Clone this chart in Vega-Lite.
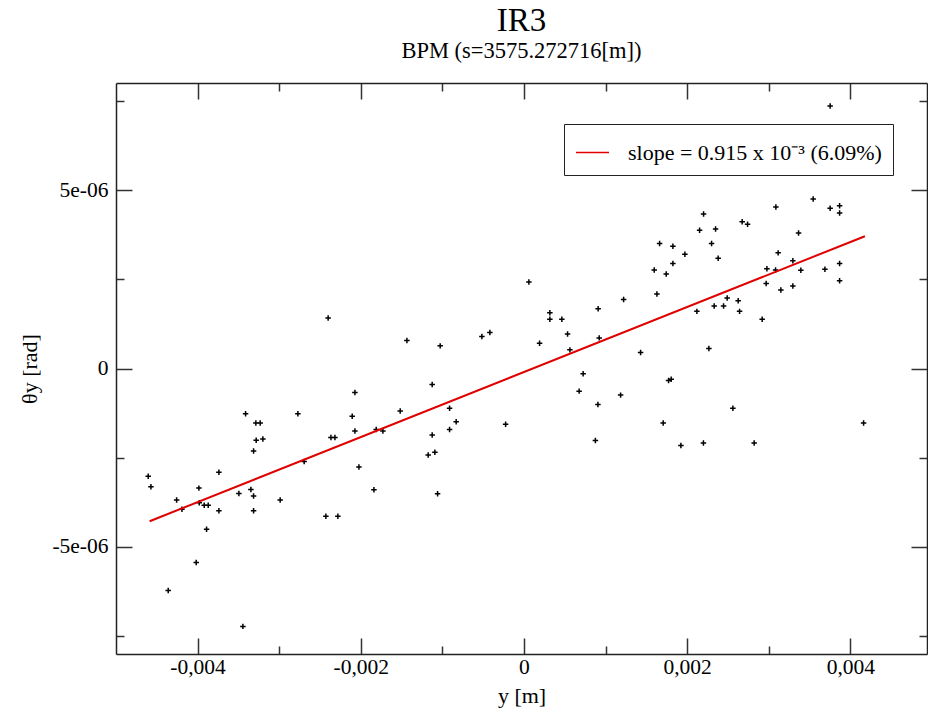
{
  "$schema": "https://vega.github.io/schema/vega-lite/v6.json",
  "autosize": "none",
  "width": 811,
  "height": 571,
  "padding": {"left": 116, "top": 83, "right": 1, "bottom": 65},
  "background": "white",
  "config": {"view": {"stroke": null}, "font": "Liberation Serif"},
  "title": {
    "text": "IR3",
    "subtitle": "BPM (s=3575.272716[m])",
    "font": "Liberation Serif",
    "fontSize": 33,
    "fontWeight": "normal",
    "color": "black",
    "subtitleFont": "Liberation Serif",
    "subtitleFontSize": 22.5,
    "subtitleColor": "black",
    "subtitlePadding": 2,
    "offset": 20,
    "anchor": "middle"
  },
  "datasets": {
    "pts": [
      {"y": -0.003412, "theta": -1.265e-6},
      {"y": -0.003286, "theta": -1.528e-6},
      {"y": -0.003233, "theta": -1.528e-6},
      {"y": -0.002771, "theta": -1.265e-6},
      {"y": -0.003282, "theta": -2.011e-6},
      {"y": -0.0032, "theta": -1.975e-6},
      {"y": -0.003314, "theta": -2.31e-6},
      {"y": -0.002694, "theta": -2.606e-6},
      {"y": -0.004605, "theta": -3.017e-6},
      {"y": -0.004572, "theta": -3.316e-6},
      {"y": -0.004257, "theta": -3.687e-6},
      {"y": -0.004192, "theta": -3.947e-6},
      {"y": -0.003984, "theta": -3.352e-6},
      {"y": -0.003739, "theta": -2.905e-6},
      {"y": -0.003919, "theta": -3.835e-6},
      {"y": -0.00387, "theta": -3.835e-6},
      {"y": -0.00389, "theta": -4.506e-6},
      {"y": -0.004017, "theta": -5.438e-6},
      {"y": -0.00436, "theta": -6.221e-6},
      {"y": -0.003739, "theta": -3.986e-6},
      {"y": -0.003494, "theta": -3.5e-6},
      {"y": -0.003347, "theta": -3.388e-6},
      {"y": -0.003314, "theta": -3.575e-6},
      {"y": -0.003314, "theta": -3.986e-6},
      {"y": -0.002988, "theta": -3.687e-6},
      {"y": -0.003445, "theta": -7.226e-6},
      {"y": -0.00398, "theta": -3.763e-6},
      {"y": -0.0024, "theta": 1.416e-6},
      {"y": -0.001435, "theta": 0.782e-6},
      {"y": -0.001027, "theta": 0.634e-6},
      {"y": -0.000516, "theta": 0.894e-6},
      {"y": -0.000418, "theta": 1.006e-6},
      {"y": 0.00006, "theta": 2.422e-6},
      {"y": -0.002072, "theta": -0.67e-6},
      {"y": -0.001125, "theta": -0.447e-6},
      {"y": -0.002105, "theta": -1.341e-6},
      {"y": -0.002072, "theta": -1.751e-6},
      {"y": -0.002366, "theta": -1.936e-6},
      {"y": -0.002317, "theta": -1.936e-6},
      {"y": -0.001517, "theta": -1.193e-6},
      {"y": -0.001811, "theta": -1.712e-6},
      {"y": -0.001729, "theta": -1.751e-6},
      {"y": -0.000912, "theta": -1.117e-6},
      {"y": -0.000831, "theta": -1.489e-6},
      {"y": -0.000912, "theta": -1.712e-6},
      {"y": -0.001125, "theta": -1.863e-6},
      {"y": -0.000225, "theta": -1.564e-6},
      {"y": -0.001174, "theta": -2.422e-6},
      {"y": -0.001092, "theta": -2.346e-6},
      {"y": -0.002023, "theta": -2.757e-6},
      {"y": -0.001839, "theta": -3.399e-6},
      {"y": -0.001059, "theta": -3.511e-6},
      {"y": -0.002428, "theta": -4.142e-6},
      {"y": -0.002281, "theta": -4.142e-6},
      {"y": 0.002201, "theta": 4.33e-6},
      {"y": 0.002152, "theta": 3.874e-6},
      {"y": 0.002348, "theta": 3.911e-6},
      {"y": 0.002299, "theta": 3.5e-6},
      {"y": 0.00238, "theta": 3.092e-6},
      {"y": 0.001662, "theta": 3.5e-6},
      {"y": 0.001825, "theta": 3.427e-6},
      {"y": 0.001972, "theta": 3.204e-6},
      {"y": 0.001825, "theta": 2.941e-6},
      {"y": 0.001596, "theta": 2.757e-6},
      {"y": 0.001743, "theta": 2.645e-6},
      {"y": 0.001629, "theta": 2.087e-6},
      {"y": 0.001221, "theta": 1.936e-6},
      {"y": 0.000909, "theta": 1.676e-6},
      {"y": 0.000317, "theta": 1.564e-6},
      {"y": 0.000317, "theta": 1.377e-6},
      {"y": 0.000464, "theta": 1.377e-6},
      {"y": 0.000534, "theta": 0.969e-6},
      {"y": 0.000191, "theta": 0.707e-6},
      {"y": 0.000563, "theta": 0.522e-6},
      {"y": 0.000922, "theta": 0.858e-6},
      {"y": 0.001429, "theta": 0.447e-6},
      {"y": 0.002119, "theta": 1.601e-6},
      {"y": 0.002331, "theta": 1.751e-6},
      {"y": 0.002266, "theta": 0.559e-6},
      {"y": 0.000725, "theta": -0.148e-6},
      {"y": 0.000676, "theta": -0.634e-6},
      {"y": 0.000906, "theta": -1.006e-6},
      {"y": 0.001184, "theta": -0.746e-6},
      {"y": 0.001772, "theta": -0.335e-6},
      {"y": 0.001804, "theta": -0.299e-6},
      {"y": 0.001706, "theta": -1.528e-6},
      {"y": 0.000875, "theta": -2.02e-6},
      {"y": 0.001923, "theta": -2.159e-6},
      {"y": 0.002199, "theta": -2.089e-6},
      {"y": 0.003752, "theta": 7.355e-6},
      {"y": 0.003544, "theta": 4.749e-6},
      {"y": 0.003087, "theta": 4.525e-6},
      {"y": 0.003752, "theta": 4.489e-6},
      {"y": 0.003868, "theta": 4.561e-6},
      {"y": 0.003868, "theta": 4.358e-6},
      {"y": 0.002674, "theta": 4.115e-6},
      {"y": 0.00274, "theta": 4.042e-6},
      {"y": 0.003365, "theta": 3.799e-6},
      {"y": 0.003115, "theta": 3.24e-6},
      {"y": 0.003295, "theta": 3.017e-6},
      {"y": 0.002977, "theta": 2.793e-6},
      {"y": 0.003083, "theta": 2.757e-6},
      {"y": 0.003393, "theta": 2.751e-6},
      {"y": 0.003688, "theta": 2.779e-6},
      {"y": 0.003868, "theta": 2.941e-6},
      {"y": 0.002968, "theta": 2.383e-6},
      {"y": 0.003148, "theta": 2.198e-6},
      {"y": 0.003295, "theta": 2.31e-6},
      {"y": 0.003868, "theta": 2.458e-6},
      {"y": 0.00249, "theta": 1.975e-6},
      {"y": 0.002625, "theta": 1.899e-6},
      {"y": 0.002446, "theta": 1.751e-6},
      {"y": 0.002642, "theta": 1.601e-6},
      {"y": 0.002919, "theta": 1.377e-6},
      {"y": 0.00256, "theta": -1.117e-6},
      {"y": 0.004162, "theta": -1.528e-6},
      {"y": 0.002821, "theta": -2.089e-6}
    ],
    "fit": [
      {"y": -0.004588, "theta": -4.28e-6},
      {"y": 0.004178, "theta": 3.707e-6}
    ]
  },
  "resolve": {"axis": {"x": "independent", "y": "independent"}},
  "layer": [
    {
      "data": {"name": "pts"},
      "mark": {"type": "point", "shape": "M-1,0H1M0,-1V1", "size": 30, "filled": false, "strokeWidth": 1.5, "color": "black", "opacity": 1, "clip": true},
      "encoding": {
        "x": {
          "field": "y", "type": "quantitative",
          "scale": {"domain": [-0.005, 0.004939], "nice": false, "zero": false},
          "axis": {
            "orient": "bottom",
            "values": [-0.004, -0.003, -0.002, -0.001, 0, 0.001, 0.002, 0.003, 0.004],
            "labelExpr": "round(datum.value*1000) % 2 != 0 ? '' : (datum.value == 0 ? '0' : replace(replace(format(datum.value, '.3f'), '.', ','), '\u2212', '-'))",
            "title": "y [m]",
            "titleFont": "Liberation Serif", "titleFontSize": 22, "titleFontWeight": "normal", "titleColor": "black", "titlePadding": 0,
            "labelFont": "Liberation Serif", "labelFontSize": 21.5, "labelColor": "black", "labelPadding": 18,
            "tickSize": {"condition": {"test": "round(datum.value*1000) % 2 != 0", "value": -8}, "value": -16},
            "tickColor": "#333", "tickWidth": 1.5,
            "domainColor": "#222", "domainWidth": 1.5,
            "grid": false, "labelFlush": false, "labelOverlap": false
          }
        },
        "y": {
          "field": "theta", "type": "quantitative",
          "scale": {"domain": [-8e-6, 8e-6], "nice": false, "zero": false},
          "axis": {
            "orient": "left",
            "values": [-7.5e-6, -5e-6, -2.5e-6, 0, 2.5e-6, 5e-6, 7.5e-6],
            "labelExpr": "abs(round(datum.value*1e7)) % 50 != 0 ? '' : (datum.value > 0 ? '5e-06' : (datum.value < 0 ? '-5e-06' : '0'))",
            "title": "θy [rad]",
            "titleFont": "Liberation Serif", "titleFontSize": 22, "titleFontWeight": "normal", "titleColor": "black", "titlePadding": 10,
            "labelFont": "Liberation Serif", "labelFontSize": 21.5, "labelColor": "black", "labelPadding": 24,
            "tickSize": {"condition": {"test": "abs(round(datum.value*1e7)) % 50 != 0", "value": -8}, "value": -16},
            "tickColor": "#333", "tickWidth": 1.5,
            "domainColor": "#222", "domainWidth": 1.5,
            "grid": false, "labelFlush": false, "labelOverlap": false
          }
        }
      }
    },
    {
      "data": {"name": "fit"},
      "mark": {"type": "line", "strokeWidth": 2, "clip": true},
      "encoding": {
        "x": {
          "field": "y", "type": "quantitative",
          "axis": {
            "orient": "top",
            "values": [-0.004, -0.003, -0.002, -0.001, 0, 0.001, 0.002, 0.003, 0.004],
            "labels": false, "title": null,
            "tickSize": {"condition": {"test": "round(datum.value*1000) % 2 != 0", "value": -8}, "value": -16},
            "tickColor": "#333", "tickWidth": 1.5,
            "domainColor": "#222", "domainWidth": 1.5, "grid": false
          }
        },
        "y": {
          "field": "theta", "type": "quantitative",
          "axis": {
            "orient": "right",
            "values": [-7.5e-6, -5e-6, -2.5e-6, 0, 2.5e-6, 5e-6, 7.5e-6],
            "labels": false, "title": null,
            "tickSize": {"condition": {"test": "abs(round(datum.value*1e7)) % 50 != 0", "value": -8}, "value": -16},
            "tickColor": "#333", "tickWidth": 1.5,
            "domainColor": "#222", "domainWidth": 1.5, "grid": false
          }
        },
        "color": {
          "datum": "slope = 0.915 x 10⁻³ (6.09%)",
          "type": "nominal",
          "scale": {"range": ["#e00000"]},
          "legend": {
            "orient": "none", "legendX": 448, "legendY": 41,
            "title": null,
            "symbolType": "stroke", "symbolSize": 1089, "symbolStrokeWidth": 1.5,
            "labelFont": "Liberation Serif", "labelFontSize": 22, "labelColor": "black", "labelOffset": 18, "labelLimit": 500,
            "strokeColor": "#222", "padding": 11, "fillColor": "white"
          }
        }
      }
    }
  ]
}
